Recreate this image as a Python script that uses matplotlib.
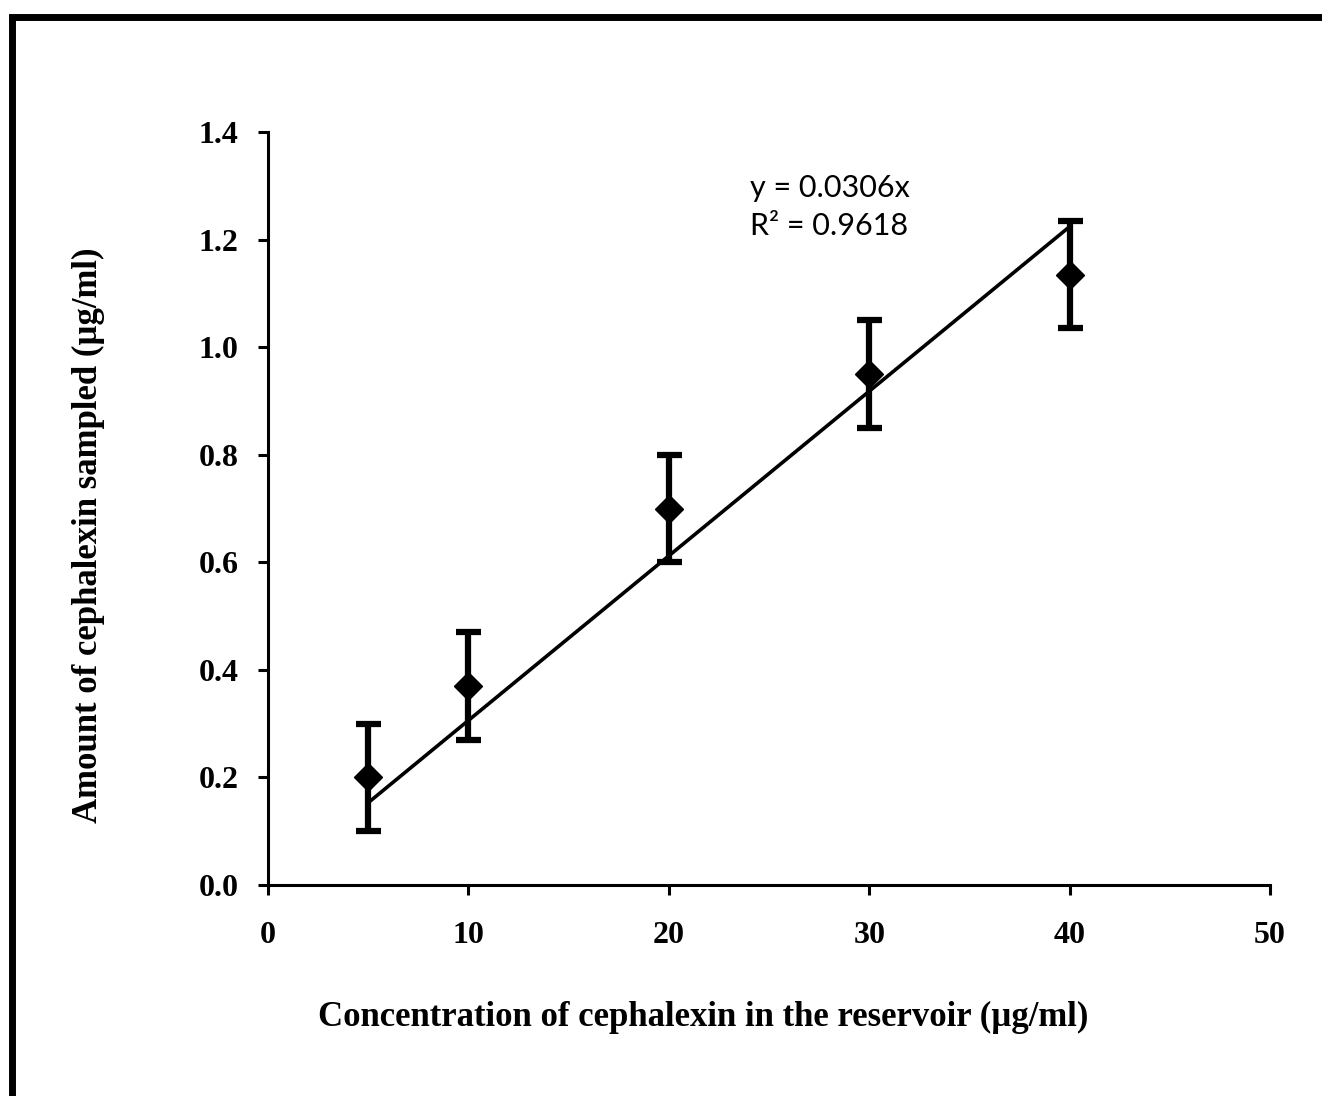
import numpy as np
import matplotlib.pyplot as plt
from matplotlib.patches import Rectangle

# data
conc = [5, 10, 20, 30, 40]
amount = [0.20, 0.37, 0.70, 0.95, 1.135]
err = [0.10, 0.10, 0.10, 0.10, 0.10]
slope = 0.0306
r2 = 0.9618
xticks = [0, 10, 20, 30, 40, 50]
yticks = [0.0, 0.2, 0.4, 0.6, 0.8, 1.0, 1.2, 1.4]

serif = ['Liberation Serif', 'DejaVu Serif']

fig = plt.figure(figsize=(13.22, 10.96), dpi=100)
ax = fig.add_axes([268/1322, 1 - 885/1096, 1002/1322, 753/1096])

# trendline through origin
xl = np.array([conc[0], conc[-1]])
ax.plot(xl, slope*xl, color='k', linewidth=2.6, zorder=2)

ax.errorbar(conc, amount, yerr=err, fmt='D', color='k', markersize=14,
            elinewidth=4.5, capsize=9, capthick=4.5, zorder=3)

ax.set_xlim(0, 50)
ax.set_ylim(0, 1.4)
ax.set_xticks(xticks)
ax.set_xticklabels([str(t) for t in xticks])
ax.set_yticks(yticks)
ax.set_yticklabels(['%.1f' % t for t in yticks])

for s in ['top', 'right']:
    ax.spines[s].set_visible(False)
for s in ['left', 'bottom']:
    ax.spines[s].set_linewidth(2.2)
ax.tick_params(direction='out', length=7, width=2.2)
ax.tick_params(axis='y', pad=14)
ax.tick_params(axis='x', pad=19)
for lab in ax.get_xticklabels() + ax.get_yticklabels():
    lab.set_fontfamily(serif)
    lab.set_fontweight('bold')
    lab.set_fontsize(23)

fig.text(703/1322, 1 - 1017/1096,
         'Concentration of cephalexin in the reservoir (\u00b5g/ml)',
         fontfamily=serif, fontweight='bold', fontsize=25, ha='center', va='center')
fig.text(88/1322, 1 - 535/1096, 'Amount of cephalexin sampled (\u00b5g/ml)',
         fontfamily=serif, fontweight='bold', fontsize=25, ha='center', va='center',
         rotation=90)

ax.text(24.05, 1.322, 'y = 0.0306x\nR\u00b2 = %.4f' % r2, fontfamily=['Lato', 'DejaVu Sans'],
        fontsize=22, va='top', ha='left', linespacing=1.45)

# outer frame (cut off at right and bottom)
fig.patches.append(Rectangle((11.5/1322, -0.2), 2, 1.2 - 16.5/1096,
                             transform=fig.transFigure, fill=False,
                             edgecolor='k', linewidth=5, zorder=0))

fig.savefig('out.png', dpi=100)
